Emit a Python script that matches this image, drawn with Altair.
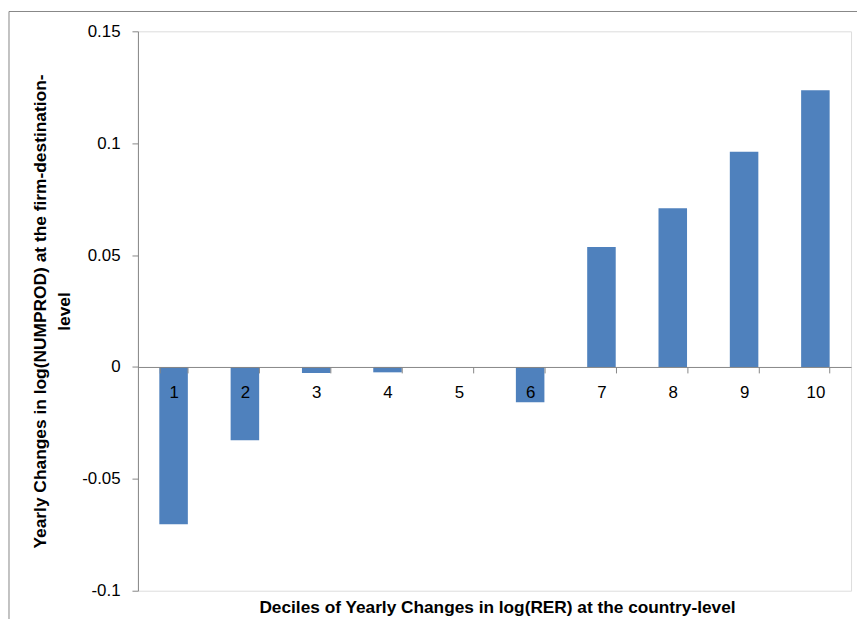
import altair as alt
import pandas as pd

deciles = ["1", "2", "3", "4", "5", "6", "7", "8", "9", "10"]
values = [-0.0703, -0.0328, -0.0027, -0.0024, 0.0, -0.0158, 0.0536, 0.0709, 0.0962, 0.1237]
y_ticks = [-0.1, -0.05, 0, 0.05, 0.1, 0.15]

y_title = ["Yearly Changes in log(NUMPROD) at the firm-destination-", "level"]
x_title = "Deciles of Yearly Changes in log(RER) at the country-level"

W, H = 719, 564
FONT = "Liberation Sans"
GRAY = "#868686"

df = pd.DataFrame({"decile": deciles, "value": values})

x_scale = alt.Scale(domain=deciles, paddingInner=0.6, paddingOuter=0.3)
y_scale = alt.Scale(domain=[-0.1, 0.15], nice=False, zero=False)

bars = alt.Chart(df).mark_bar(color="#4F81BD").encode(
    x=alt.X(
        "decile:N",
        scale=x_scale,
        sort=deciles,
        axis=alt.Axis(
            title=None,
            labelAngle=0,
            offset=-(H * 0.1 / 0.25),
            tickBand="extent",
            tickSize=6,
            labelPadding=12,
            labelFontSize=17,
            labelFont=FONT,
            labelColor="#000000",
            domainColor=GRAY,
            tickColor=GRAY,
            grid=False,
            zindex=1,
        ),
    ),
    y=alt.Y(
        "value:Q",
        scale=y_scale,
        axis=alt.Axis(
            title=y_title,
            values=y_ticks,
            labelExpr="'' + datum.value",
            tickSize=6,
            labelPadding=12,
            labelFontSize=17,
            labelFont=FONT,
            labelColor="#000000",
            domainColor=GRAY,
            tickColor=GRAY,
            grid=False,
            titleFont=FONT,
            titleFontSize=17.5,
            titleFontWeight="bold",
            titleColor="#000000",
            titleX=-89,
            titleY=H / 2,
            titleAngle=270,
            titleAlign="center",
            titleBaseline="bottom",
            titleLineHeight=24,
        ),
    ),
)

one = pd.DataFrame({"t": [x_title]})

xt = alt.Chart(one).mark_text(
    font=FONT, fontSize=17.4, fontWeight="bold", color="#000000", baseline="middle", align="center"
).encode(
    text="t:N",
    x=alt.value(W / 2 + 3),
    y=alt.value(H + 17),
)

border = alt.Chart(one).mark_rect(fill=None, stroke=GRAY, strokeWidth=1).encode(
    x=alt.value(-130),
    y=alt.value(-20),
    x2=alt.value(W + 200),
    y2=alt.value(H + 200),
)

chart = alt.layer(border, bars, xt).properties(
    width=W,
    height=H,
    autosize=alt.AutoSizeParams(type="none"),
    padding={"left": 131, "top": 21, "right": 6, "bottom": 26},
).configure_view(stroke=None).configure(background="white")

chart.save("out.html", embed_options={"renderer": "svg", "actions": False})
